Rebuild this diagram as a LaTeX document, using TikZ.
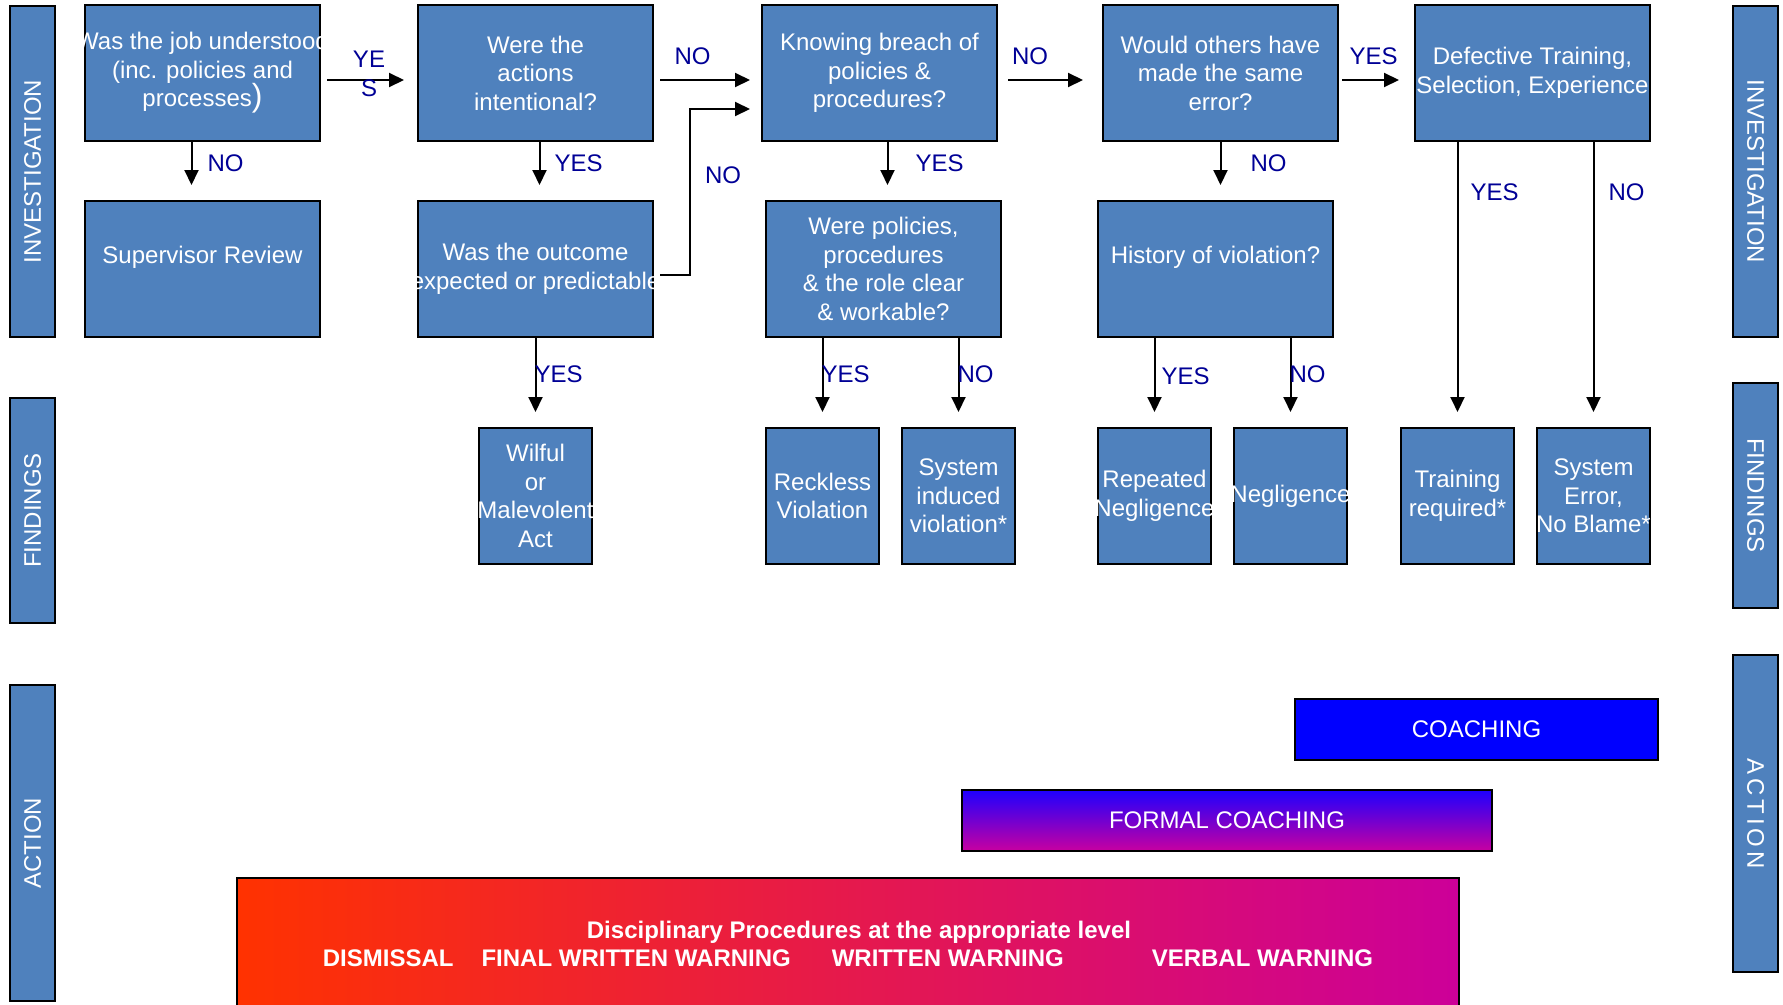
\documentclass[tikz,border=0pt]{standalone}
\usepackage{fontspec}
\setmainfont{Liberation Sans}
\usetikzlibrary{arrows.meta, positioning}
\definecolor{boxblue}{RGB}{79,129,189}
\definecolor{ynblue}{RGB}{0,0,150}
\definecolor{coachblue}{RGB}{0,0,255}
\definecolor{formtop}{RGB}{30,0,255}
\definecolor{formbot}{RGB}{200,0,160}
\definecolor{discred}{RGB}{255,50,0}
\definecolor{discmag}{RGB}{204,0,153}
\newcommand\spill[1]{\makebox[0pt]{#1}}
\tikzset{
  qbox/.style    = {draw=black, line width=2pt, fill=boxblue, text=white, align=center,
                    minimum width=235pt, minimum height=136pt, inner sep=0pt, outer sep=0pt,
                    font=\fontsize{24}{28.5}\selectfont},
  findbox/.style = {qbox, minimum width=113pt},
  band/.style    = {draw=black, line width=2pt, fill=boxblue, text=white, minimum height=45pt,
                    inner sep=0pt, font=\fontsize{24}{28.5}\selectfont},
  bar/.style     = {draw=black, line width=2pt, text=white, inner sep=0pt, minimum height=61pt,
                    font=\fontsize{24}{28.5}\selectfont},
  arrow/.style   = {-{Triangle[length=15pt,width=14pt]}, line width=2pt, black},
  yn/.style      = {text=ynblue, inner sep=2pt, font=\fontsize{24}{28.5}\selectfont},
}

\begin{document}
\begin{tikzpicture}[x=1pt, y=1pt]
  \fill[white] (0,0) rectangle (1783,-1004);
  \useasboundingbox (0,0) rectangle (1783,-1004);

  \node[band, rotate=90, minimum width=331pt] (invl) at (32.5,-171.5) {INVESTIGATION};
  \node[band, rotate=90, minimum width=225pt] (findl) at (32.5,-510.5) {FINDINGS};
  \node[band, rotate=90, minimum width=316pt] (actl) at (32.5,-843) {ACTION};
  \node[band, rotate=-90, minimum width=331pt] (invr) at (1755.5,-171.5) {INVESTIGATION};
  \node[band, rotate=-90, minimum width=225pt] (findr) at (1755.5,-495.5) {FINDINGS};
  \node[band, rotate=-90, minimum width=317pt] (actr) at (1755.5,-813.5) {A\,C\,T\,I\,O\,N};

  \node[qbox] (job) at (202.5,-73) {\spill{Was the job understood}\\(inc. policies and\\processes{\fontsize{32}{32}\selectfont )}};
  \node[qbox, right=98pt of job] (intent) {Were the\\actions\\intentional?};
  \node[qbox, right=109pt of intent] (breach) {Knowing breach of\\policies \&\\procedures?};
  \node[qbox, right=106pt of breach] (others) {Would others have\\made the same\\error?};
  \node[qbox, right=77pt of others] (defect) {Defective Training,\\\spill{Selection, Experience}};

  \node[qbox, below=60pt of job] (super) {Supervisor Review\\~};
  \node[qbox, below=60pt of intent] (outcome) {Was the outcome\\\spill{expected or predictable}};
  \node[qbox, below=60pt of breach, xshift=4pt] (policies) {Were policies,\\procedures\\\& the role clear\\\& workable?};
  \node[qbox, below=60pt of others, xshift=-5pt] (history) {History of violation?\\~};

  \node[findbox, below=91pt of outcome] (wilful) {Wilful\\or\\\spill{Malevolent}\\Act};
  \node[findbox, below=91pt of policies.south west, anchor=north west] (reckless) {Reckless\\Violation};
  \node[findbox, right=23pt of reckless] (sysind) {System\\induced\\violation*};
  \node[findbox, below=91pt of history.south west, anchor=north west] (repeated) {Repeated\\\spill{Negligence}};
  \node[findbox, right=23pt of repeated] (neglig) {\spill{Negligence}};
  \node[findbox, below=287pt of defect.south east, anchor=north east] (syserr) {System\\Error,\\\spill{No Blame*}};
  \node[findbox, left=23pt of syserr] (training) {Training\\required*};

  \node[bar, fill=coachblue, minimum width=363pt] (coach) at (1476.5,-729.5) {COACHING};
  \node[bar, top color=formtop, bottom color=formbot, minimum width=530pt] (formal) at (1227,-820.5) {FORMAL COACHING};
  \node[bar, left color=discred, right color=discmag, minimum width=1222pt, minimum height=132pt,
        align=center, font=\bfseries\fontsize{24}{28}\selectfont] (disc) at (848,-944)
        {\hspace*{22pt}Disciplinary Procedures at the appropriate level\\DISMISSAL\hspace{28pt}FINAL WRITTEN WARNING\hspace{41pt}WRITTEN WARNING\hspace{88pt}VERBAL WARNING};

  \draw[arrow, shorten <=7pt, shorten >=14pt] ([yshift=-7pt]job.east) -- node[yn, align=center, yshift=6pt] {YE\\S} ([yshift=-7pt]intent.west);
  \draw[arrow, shorten <=7pt, shorten >=12pt] ([yshift=-7pt]intent.east) -- node[yn, above=12pt, xshift=-15pt] {NO} ([yshift=-7pt]breach.west);
  \draw[arrow, shorten <=11pt, shorten >=20pt] ([yshift=-7pt]breach.east) -- node[yn, above=12pt, xshift=-20pt] {NO} ([yshift=-7pt]others.west);
  \draw[arrow, shorten <=4pt, shorten >=16pt] ([yshift=-7pt]others.east) -- node[yn, above=12pt, xshift=-3pt] {YES} ([yshift=-7pt]defect.west);

  \draw[arrow, shorten >=16pt] ([xshift=-11pt]job.south) -- node[yn, right=13pt, pos=0.37] {NO} ([xshift=-11pt]super.north);
  \draw[arrow, shorten >=16pt] ([xshift=4pt]intent.south) -- node[yn, right=12pt, pos=0.37] {YES} ([xshift=4pt]outcome.north);
  \draw[arrow, shorten >=16pt] ([xshift=8pt]breach.south) -- node[yn, right=25pt, pos=0.37] {YES} ([xshift=4pt]policies.north);
  \draw[arrow, shorten >=16pt] (others.south) -- node[yn, right=27pt, pos=0.37] {NO} ([xshift=5pt]history.north);

  \draw[arrow, shorten <=7pt, shorten >=12pt] ([yshift=-6pt]outcome.east) -- ++(37pt,0) |- node[yn, right=12pt, pos=0.3] {NO} ([yshift=-36pt]breach.west);

  \draw[arrow, shorten >=16pt] (outcome.south) -- node[yn, right=-4pt, pos=0.41] {YES} (wilful.north);
  \draw[arrow, shorten >=16pt] (policies.south -| reckless.north) -- node[yn, right=-4pt, pos=0.41] {YES} (reckless.north);
  \draw[arrow, shorten >=16pt] (policies.south -| sysind.north) -- node[yn, right=-4pt, pos=0.41] {NO} (sysind.north);
  \draw[arrow, shorten >=16pt] (history.south -| repeated.north) -- node[yn, right=4pt, pos=0.43] {YES} (repeated.north);
  \draw[arrow, shorten >=16pt] (history.south -| neglig.north) -- node[yn, right=-4pt, pos=0.41] {NO} (neglig.north);
  \draw[arrow, shorten >=16pt] (defect.south -| training.north) -- node[yn, right=10pt, pos=0.18] {YES} (training.north);
  \draw[arrow, shorten >=16pt] (defect.south -| syserr.north) -- node[yn, right=12pt, pos=0.18] {NO} (syserr.north);
\end{tikzpicture}
\end{document}
